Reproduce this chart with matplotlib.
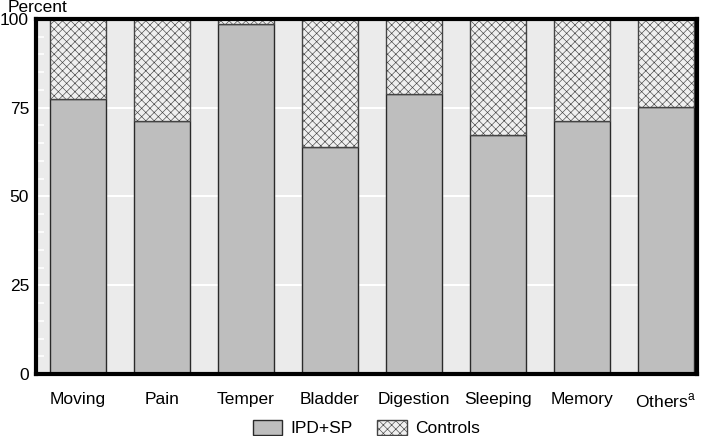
import matplotlib
matplotlib.use("Agg")
import matplotlib.pyplot as plt
import numpy as np
from matplotlib.ticker import MultipleLocator

# Data
categories = ["Moving", "Pain", "Temper", "Bladder", "Digestion", "Sleeping", "Memory", "Others$^{\\mathregular{a}}$"]
ipd_sp = [77.5, 71.3, 98.6, 63.9, 78.9, 67.3, 71.3, 75.2]
controls = [100 - v for v in ipd_sp]

plt.rcParams['font.family'] = ['Liberation Sans', 'DejaVu Sans']
plt.rcParams['hatch.color'] = '#ababab'
plt.rcParams['hatch.linewidth'] = 0.45

fig = plt.figure(figsize=(7.09, 4.36), dpi=100)
ax = fig.add_axes([36 / 709, 1 - 374 / 436, 661 / 709, 355 / 436])

x = np.arange(len(categories))
w = 0.667
ax.bar(x, ipd_sp, w, color='#bebebe', edgecolor='#2a2a2a', linewidth=1.0,
       label='IPD+SP', zorder=3)
ax.bar(x, controls, w, bottom=ipd_sp, color='#f0f0f0', edgecolor='#444444',
       linewidth=1.0, hatch='xxxx', label='Controls', zorder=3)

ax.set_facecolor('#ebebeb')
ax.set_xlim(-0.5, 7.37)
ax.set_ylim(0, 100)
ax.yaxis.set_major_locator(MultipleLocator(25))
ax.yaxis.set_minor_locator(MultipleLocator(5))
ax.grid(axis='y', which='major', color='white', linewidth=1.5, zorder=1)
ax.tick_params(axis='y', which='major', length=0, labelsize=12.5, pad=5)
ax.tick_params(axis='y', which='minor', direction='in', length=6, color='white', width=1.2)
ax.tick_params(axis='x', length=0, labelsize=12.5, pad=13)
ax.set_xticks(x)
ax.set_xticklabels(categories)
for s in ax.spines.values():
    s.set_linewidth(3)
    s.set_color('black')
    s.set_zorder(5)

fig.text(8 / 709, 1 - 0 / 436, "Percent", fontsize=12.5, va='top', ha='left')

ax.legend(loc='center', bbox_to_anchor=(0.5, -0.152), ncol=2, frameon=False,
          fontsize=12.5, handlelength=1.7, handleheight=1.0, columnspacing=1.4,
          handletextpad=0.5, borderpad=0.1)

fig.savefig("out.png", dpi=100)
